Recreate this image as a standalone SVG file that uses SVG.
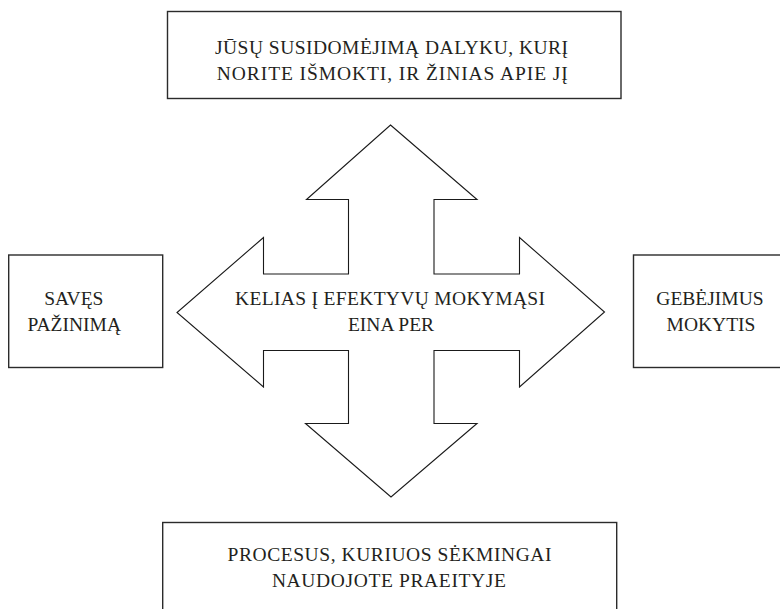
<svg xmlns="http://www.w3.org/2000/svg" width="780" height="609" viewBox="0 0 780 609">
<style>
.box{fill:#fff;stroke:#2b2b2b;stroke-width:1.4}
.arrow{fill:#fff;stroke:#1a1a1a;stroke-width:1.1;stroke-linejoin:miter}
.t{font-family:'Liberation Serif','Times New Roman',serif;font-size:19.5px;fill:#231f20;text-anchor:middle}
</style>
<rect width="780" height="609" fill="#fff"/>
<g id="connectors">
<polygon class="arrow" points="390.5,125 477,199.5 434,199.5 434,274 519.5,274 519.5,237.5 604.5,312 519.5,387 519.5,350.5 434,350.5 434,423.5 477,423.5 391,497 305.5,423.5 348.5,423.5 348.5,350.5 263.5,350.5 263.5,387 177,312.5 263.5,237.5 263.5,274 348.5,274 348.5,199.5 306.5,199.5"/>
</g>
<g id="center" class="t">
<text x="390" y="304.5" textLength="310" lengthAdjust="spacing">KELIAS Į EFEKTYVŲ MOKYMĄSI</text>
<text x="391" y="330.5">EINA PER</text>
</g>
<g id="top" class="t">
<rect class="box" x="167.5" y="11.5" width="453.5" height="87"/>
<text x="391.5" y="54" textLength="353" lengthAdjust="spacing">JŪSŲ SUSIDOMĖJIMĄ DALYKU, KURĮ</text>
<text x="392.3" y="80" textLength="351" lengthAdjust="spacing">NORITE IŠMOKTI, IR ŽINIAS APIE JĮ</text>
</g>
<g id="left" class="t">
<rect class="box" x="8.7" y="255" width="154" height="112.5"/>
<text x="73.8" y="305">SAVĘS</text>
<text x="74.2" y="330.5">PAŽINIMĄ</text>
</g>
<g id="right" class="t">
<rect class="box" x="633.5" y="255" width="160" height="112.5"/>
<text x="710" y="305">GEBĖJIMUS</text>
<text x="711" y="330.5">MOKYTIS</text>
</g>
<g id="bottom" class="t">
<rect class="box" x="162.7" y="522.5" width="454" height="100"/>
<text x="389.5" y="561" textLength="324" lengthAdjust="spacing">PROCESUS, KURIUOS SĖKMINGAI</text>
<text x="388.9" y="587" textLength="234" lengthAdjust="spacing">NAUDOJOTE PRAEITYJE</text>
</g>
</svg>
